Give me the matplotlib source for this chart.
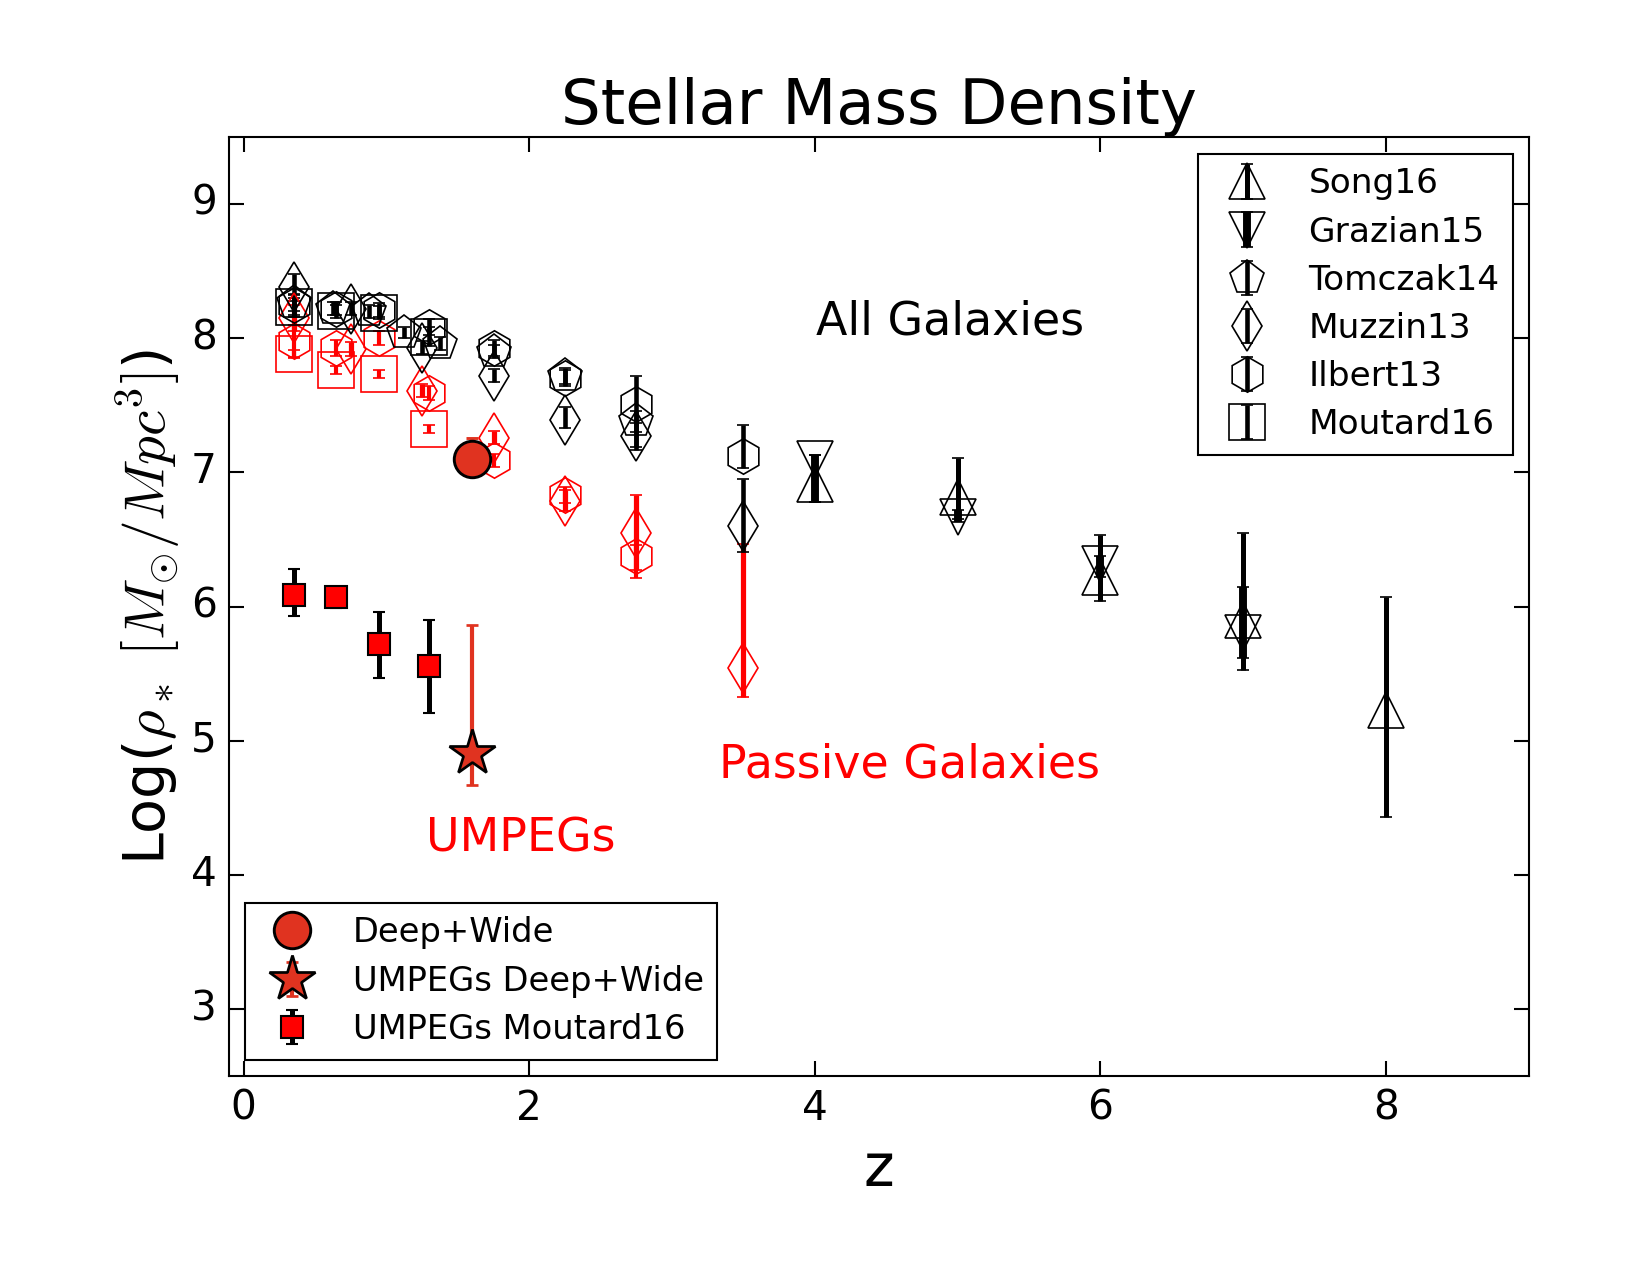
import matplotlib
matplotlib.use("Agg")
import matplotlib.pyplot as plt

plt.style.use("classic")
plt.rcParams["font.family"] = ["DejaVu Sans"]
plt.rcParams["mathtext.fontset"] = "cm"

# ---------------- data ----------------
# All galaxies (black, open markers)
song_z = [4, 5, 6, 7, 8]
song_y = [6.91, 6.82, 6.22, 5.90, 5.23]
song_up = [0.22, 0.29, 0.31, 0.65, 0.84]
song_lo = [0.13, 0.17, 0.18, 0.37, 0.80]

grazian_z = [4, 5, 6, 7]
grazian_y = [7.10, 6.67, 6.32, 5.80]
grazian_up = [0.03, 0.05, 0.06, 0.35]
grazian_lo = [0.32, 0.04, 0.10, 0.18]

tomczak_z = [0.35, 0.625, 0.875, 1.125, 1.375, 1.75, 2.25, 2.75]
tomczak_y = [8.26, 8.22, 8.20, 8.04, 7.96, 7.90, 7.72, 7.38]
tomczak_up = [0.06, 0.05, 0.05, 0.04, 0.05, 0.05, 0.06, 0.08]
tomczak_lo = [0.06, 0.05, 0.05, 0.04, 0.05, 0.05, 0.06, 0.08]

muzzin_z = [0.35, 0.75, 1.25, 1.75, 2.25, 2.75, 3.5]
muzzin_y = [8.38, 8.22, 7.93, 7.72, 7.39, 7.27, 6.60]
muzzin_up = [0.10, 0.05, 0.05, 0.05, 0.10, 0.10, 0.35]
muzzin_lo = [0.10, 0.05, 0.05, 0.05, 0.06, 0.10, 0.19]

ilbert_z = [0.35, 0.65, 0.95, 1.3, 1.75, 2.25, 2.75, 3.5]
ilbert_y = [8.25, 8.22, 8.21, 8.08, 7.93, 7.70, 7.51, 7.12]
ilbert_up = [0.08, 0.05, 0.05, 0.06, 0.06, 0.06, 0.21, 0.23]
ilbert_lo = [0.08, 0.05, 0.05, 0.06, 0.06, 0.06, 0.32, 0.09]

moutard_z = [0.35, 0.65, 0.95, 1.3]
moutard_y = [8.23, 8.20, 8.19, 8.01]
moutard_up = [0.07, 0.05, 0.05, 0.07]
moutard_lo = [0.07, 0.05, 0.05, 0.07]

# Passive galaxies (red, open markers)
muzzin_p_z = [0.35, 0.75, 1.25, 1.75, 2.25, 2.75, 3.5]
muzzin_p_y = [8.15, 7.92, 7.61, 7.26, 6.79, 6.55, 5.54]
muzzin_p_up = [0.10, 0.05, 0.05, 0.05, 0.08, 0.28, 0.93]
muzzin_p_lo = [0.10, 0.05, 0.05, 0.05, 0.08, 0.28, 0.21]

ilbert_p_z = [0.35, 0.65, 0.95, 1.3, 1.75, 2.25, 2.75]
ilbert_p_y = [7.98, 7.93, 8.00, 7.59, 7.09, 6.83, 6.38]
ilbert_p_up = [0.12, 0.06, 0.05, 0.05, 0.05, 0.06, 0.08]
ilbert_p_lo = [0.12, 0.06, 0.05, 0.05, 0.05, 0.06, 0.17]

moutard_p_z = [0.35, 0.65, 0.95, 1.3]
moutard_p_y = [7.88, 7.76, 7.73, 7.32]
moutard_p_up = [0.03, 0.03, 0.03, 0.03]
moutard_p_lo = [0.03, 0.03, 0.03, 0.03]

# UMPEGs
umpeg_m_z = [0.35, 0.65, 0.95, 1.3]
umpeg_m_y = [6.09, 6.07, 5.72, 5.56]
umpeg_m_up = [0.19, 0.04, 0.24, 0.34]
umpeg_m_lo = [0.16, 0.08, 0.25, 0.35]

dw_z = [1.6]
dw_y = [7.10]
dw_up = [0.16]
dw_lo = [0.10]

umpeg_dw_z = [1.6]
umpeg_dw_y = [4.91]
umpeg_dw_up = [0.95]
umpeg_dw_lo = [0.24]

# ---------------- figure ----------------
DPI = 150
fig = plt.figure(figsize=(11, 8.5), dpi=DPI, facecolor="white")
ax = fig.add_axes([0.139, 0.1557, 0.7876, 0.737])

MS = 17
common = dict(ls="none", capsize=3, capthick=1.3, mew=0.8)

# passive (red) first
ax.errorbar(muzzin_p_z, muzzin_p_y, yerr=[muzzin_p_lo, muzzin_p_up], fmt="d", ms=MS,
            mfc="none", mec="red", ecolor="red", elinewidth=2.5, **common)
ax.errorbar(ilbert_p_z, ilbert_p_y, yerr=[ilbert_p_lo, ilbert_p_up], fmt="h", ms=MS,
            mfc="none", mec="red", ecolor="red", elinewidth=2.0, **common)
ax.errorbar(moutard_p_z, moutard_p_y, yerr=[moutard_p_lo, moutard_p_up], fmt="s", ms=MS,
            mfc="none", mec="red", ecolor="red", elinewidth=2.0, **common)

# all galaxies (black)
h_song = ax.errorbar(song_z, song_y, yerr=[song_lo, song_up], fmt="^", ms=MS,
                     mfc="none", mec="black", ecolor="black", elinewidth=2.4,
                     label="Song16", **common)
h_graz = ax.errorbar(grazian_z, grazian_y, yerr=[grazian_lo, grazian_up], fmt="v", ms=MS,
                     mfc="none", mec="black", ecolor="black", elinewidth=3.8,
                     label="Grazian15", **common)
h_tom = ax.errorbar(tomczak_z, tomczak_y, yerr=[tomczak_lo, tomczak_up], fmt="p", ms=MS,
                    mfc="none", mec="black", ecolor="black", elinewidth=2.2,
                    label="Tomczak14", **common)
h_muz = ax.errorbar(muzzin_z, muzzin_y, yerr=[muzzin_lo, muzzin_up], fmt="d", ms=MS,
                    mfc="none", mec="black", ecolor="black", elinewidth=2.2,
                    label="Muzzin13", **common)
h_ilb = ax.errorbar(ilbert_z, ilbert_y, yerr=[ilbert_lo, ilbert_up], fmt="h", ms=MS,
                    mfc="none", mec="black", ecolor="black", elinewidth=2.2,
                    label="Ilbert13", **common)
h_mou = ax.errorbar(moutard_z, moutard_y, yerr=[moutard_lo, moutard_up], fmt="s", ms=MS,
                    mfc="none", mec="black", ecolor="black", elinewidth=2.2,
                    label="Moutard16", **common)

# UMPEGs and Deep+Wide
ORANGE_RED = "#e03320"
h_um = ax.errorbar(umpeg_m_z, umpeg_m_y, yerr=[umpeg_m_lo, umpeg_m_up], fmt="s", ms=10.5,
                   mfc="red", mec="black", mew=1.0, ecolor="black", elinewidth=2.4,
                   capsize=3, capthick=1.3, ls="none", label="UMPEGs Moutard16")
h_dw = ax.errorbar(dw_z, dw_y, yerr=[dw_lo, dw_up], fmt="o", ms=17.5,
                   mfc=ORANGE_RED, mec="black", mew=1.4, ecolor=ORANGE_RED, elinewidth=2.0,
                   capsize=3, capthick=1.3, ls="none", label="Deep+Wide", zorder=5)
h_star = ax.errorbar(umpeg_dw_z, umpeg_dw_y, yerr=[umpeg_dw_lo, umpeg_dw_up], fmt="*", ms=23,
                     mfc=ORANGE_RED, mec="black", mew=1.3, ecolor=ORANGE_RED, elinewidth=2.0,
                     capsize=3, capthick=1.3, ls="none", label="UMPEGs Deep+Wide", zorder=5)

# texts
ax.text(4.95, 8.12, "All Galaxies", fontsize=22, ha="center", va="center", color="black")
ax.text(4.66, 4.82, "Passive Galaxies", fontsize=22, ha="center", va="center", color="red")
ax.text(1.94, 4.27, "UMPEGs", fontsize=22, ha="center", va="center", color="red")

ax.set_xlim(-0.1, 9)
ax.set_ylim(2.5, 9.5)
ax.set_xticks([0, 2, 4, 6, 8])
ax.set_yticks([3, 4, 5, 6, 7, 8, 9])
ax.tick_params(axis="both", which="major", labelsize=19.5, direction="in", length=7,
               width=1, pad=6, top=True, right=True)
ax.minorticks_off()

ax.set_title("Stellar Mass Density", fontsize=30, pad=6)
ax.set_xlabel("z", fontsize=28, labelpad=6)
ax.set_ylabel(r"Log($\rho_*\ [M_{\odot}/Mpc^3]$)", fontsize=27.5, labelpad=4)

leg1 = ax.legend(handles=[h_song, h_graz, h_tom, h_muz, h_ilb, h_mou],
                 loc="upper right", bbox_to_anchor=(0.988, 0.982), borderaxespad=0,
                 numpoints=1, fontsize=16.5, labelspacing=0.44, handlelength=2,
                 handletextpad=0.8, borderpad=0.4, fancybox=False)
leg1.get_frame().set_linewidth(1.0)
ax.add_artist(leg1)

leg2 = ax.legend(handles=[h_dw, h_star, h_um],
                 loc="lower left", bbox_to_anchor=(0.012, 0.018), borderaxespad=0,
                 numpoints=1, fontsize=16.2, labelspacing=0.46, handlelength=2,
                 handletextpad=0.8, borderpad=0.4, fancybox=False)
leg2.get_frame().set_linewidth(1.0)

fig.savefig("out.png", dpi=DPI, facecolor="white")
